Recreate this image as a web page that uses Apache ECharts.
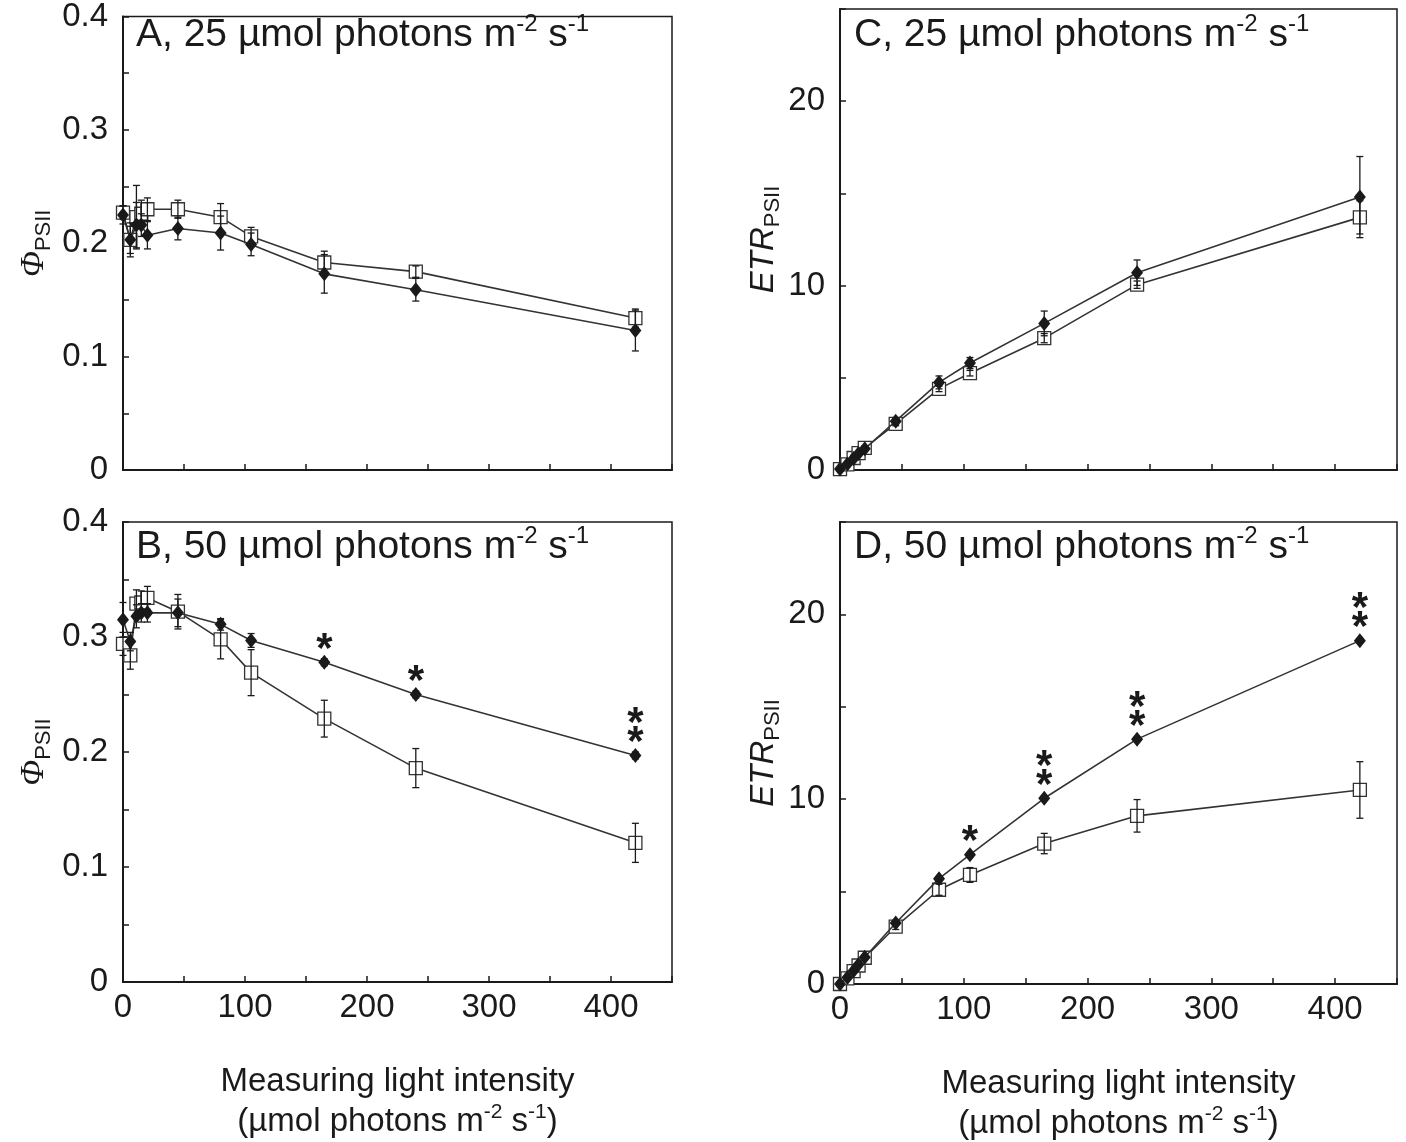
<!DOCTYPE html>
<html>
<head>
<meta charset="utf-8">
<script src="https://cdn.jsdelivr.net/npm/echarts@6/dist/echarts.min.js"></script>
<style>
  html, body { margin: 0; padding: 0; background: #fff; }
  #chart { width: 1406px; height: 1142px; }
</style>
</head>
<body>
<div id="chart"></div>
<script>
// measuring light intensity (x)
const lightX = [0, 6, 11, 15, 20, 45, 80, 105, 165, 240, 420];

// A: PhiPSII, grown at 25
const phiA_diamond = [0.225, 0.203, 0.216, 0.216, 0.207, 0.213, 0.209, 0.199, 0.173, 0.159, 0.123];
const phiA_diamondErr = [0.008, 0.012, 0.020, 0.010, 0.012, 0.010, 0.015, 0.010, 0.017, 0.010, 0.018];
const phiA_square = [0.227, 0.203, 0.223, 0.226, 0.230, 0.230, 0.223, 0.206, 0.183, 0.175, 0.134];
const phiA_squareErr = [0.006, 0.015, 0.028, 0.012, 0.010, 0.008, 0.012, 0.008, 0.010, 0.005, 0.008];

// B: PhiPSII, grown at 50
const phiB_diamond = [0.315, 0.296, 0.318, 0.321, 0.321, 0.321, 0.311, 0.297, 0.278, 0.250, 0.197];
const phiB_diamondErr = [0.015, 0.008, 0.010, 0.008, 0.008, 0.012, 0.005, 0.006, 0.003, 0.003, 0.003];
const phiB_square = [0.294, 0.284, 0.329, 0.330, 0.334, 0.322, 0.298, 0.269, 0.229, 0.186, 0.121];
const phiB_squareErr = [0.010, 0.012, 0.012, 0.010, 0.010, 0.015, 0.017, 0.020, 0.016, 0.017, 0.017];
const starsB = ['', '', '', '', '', '', '', '', '*', '*', '**'];

// C: ETR, grown at 25
const etrC_diamond = [0.05, 0.32, 0.62, 0.9, 1.15, 2.65, 4.75, 5.8, 7.95, 10.7, 14.8];
const etrC_diamondErr = [0.05, 0.1, 0.15, 0.1, 0.1, 0.15, 0.35, 0.3, 0.67, 0.69, 2.2];
const etrC_square = [0.05, 0.3, 0.65, 0.92, 1.2, 2.5, 4.4, 5.25, 7.15, 10.05, 13.7];
const etrC_squareErr = [0.05, 0.1, 0.15, 0.1, 0.1, 0.1, 0.15, 0.15, 0.25, 0.2, 0.9];

// D: ETR, grown at 50
const etrD_diamond = [0, 0.35, 0.72, 1.05, 1.45, 3.3, 5.7, 7.0, 10.05, 13.25, 18.58];
const etrD_diamondErr = [0, 0.05, 0.05, 0.05, 0.05, 0.1, 0.1, 0.1, 0.1, 0.1, 0.1];
const etrD_square = [0, 0.3, 0.7, 1.0, 1.42, 3.1, 5.1, 5.9, 7.6, 9.1, 10.5];
const etrD_squareErr = [0, 0.05, 0.1, 0.1, 0.1, 0.15, 0.3, 0.4, 0.55, 0.88, 1.53];
const starsD = ['', '', '', '', '', '', '', '*', '**', '**', '**'];

const phiTicks = [0, 0.1, 0.2, 0.3, 0.4];
const etrTicks = [0, 10, 20];
const xTicks = [0, 100, 200, 300, 400];

const FONT = 'Liberation Sans';
const black = '#1a1a1a';
const LBL = 33;

const grids = [
  { left: 123, top: 9, width: 549, height: 461 },
  { left: 123, top: 522, width: 549, height: 460 },
  { left: 840, top: 9, width: 557, height: 461 },
  { left: 840, top: 522, width: 557, height: 462 }
].map(g => Object.assign(g, { show: true, borderColor: black, borderWidth: 1.5, backgroundColor: 'transparent' }));

const unitName = '{t|(µmol photons m}{s|-2}{t| s}{s|-1}{t|)}';
const unitRich = {
  t: { fontSize: LBL, fontFamily: FONT, color: black, lineHeight: 40 },
  s: { fontSize: 21, fontFamily: FONT, color: black, verticalAlign: 'top', lineHeight: 40, padding: [0, 0, 14, 0] },
  h: { fontSize: LBL, fontFamily: FONT, color: black, lineHeight: 40 }
};

function makeX(idx, showLabels) {
  return {
    gridIndex: idx, type: 'value', min: 0, max: 450, interval: 50,
    axisLine: { lineStyle: { color: black, width: 2 } },
    axisTick: { inside: true, length: 6, lineStyle: { color: black, width: 1.5 } },
    axisLabel: {
      show: showLabels, margin: 9, fontSize: LBL, fontFamily: FONT, color: black,
      formatter: v => (xTicks.indexOf(v) >= 0 ? String(v) : '')
    },
    splitLine: { show: false },
    name: showLabels ? '{h|Measuring light intensity}\n' + unitName : '',
    nameLocation: 'middle', nameGap: 80,
    nameTextStyle: { rich: unitRich, verticalAlign: 'top' }
  };
}

function makeY(idx, kind) {
  const isPhi = kind === 'phi';
  return {
    gridIndex: idx, type: 'value', min: 0,
    max: isPhi ? 0.4 : 25, interval: isPhi ? 0.05 : 5,
    axisLine: { lineStyle: { color: black, width: 2 } },
    axisTick: { inside: true, length: 6, lineStyle: { color: black, width: 1.5 } },
    axisLabel: {
      margin: 15, fontSize: LBL, fontFamily: FONT, color: black,
      formatter: v => {
        if (isPhi) {
          const hit = phiTicks.find(t => Math.abs(t - v) < 1e-6);
          return hit === undefined ? '' : (hit === 0 ? '0' : hit.toFixed(1));
        }
        return etrTicks.indexOf(v) >= 0 ? String(v) : '';
      }
    },
    splitLine: { show: false },
    name: isPhi ? '{m|Φ}{b|PSII}' : '{m|ETR}{b|PSII}',
    nameLocation: 'middle', nameRotate: 90, nameGap: isPhi ? 68 : 50,
    nameTextStyle: {
      rich: {
        m: { fontSize: isPhi ? 34 : LBL, fontStyle: 'italic', fontFamily: isPhi ? 'Liberation Serif' : FONT, color: black, lineHeight: 42 },
        b: { fontSize: 22, fontFamily: FONT, color: black, verticalAlign: 'bottom', lineHeight: 42, padding: [13, 0, 0, 0] }
      }
    }
  };
}

function errSeries(idx, ys, errs) {
  return {
    type: 'custom', xAxisIndex: idx, yAxisIndex: idx, z: 5,
    data: lightX.map((x, i) => [x, ys[i], errs[i]]),
    renderItem: (params, api) => {
      const x = api.value(0), y = api.value(1), e = api.value(2);
      const top = api.coord([x, y + e]);
      const bot = api.coord([x, y - e]);
      const st = { stroke: black, lineWidth: 1.3 };
      return {
        type: 'group',
        children: [
          { type: 'line', shape: { x1: top[0], y1: top[1], x2: bot[0], y2: bot[1] }, style: st },
          { type: 'line', shape: { x1: top[0] - 3.5, y1: top[1], x2: top[0] + 3.5, y2: top[1] }, style: st },
          { type: 'line', shape: { x1: bot[0] - 3.5, y1: bot[1], x2: bot[0] + 3.5, y2: bot[1] }, style: st }
        ]
      };
    }
  };
}

function diamondSeries(idx, ys, stars) {
  return {
    type: 'line', xAxisIndex: idx, yAxisIndex: idx, z: 4,
    symbol: 'diamond', symbolSize: [12, 15],
    itemStyle: { color: black },
    lineStyle: { color: '#333', width: 1.6 },
    data: lightX.map((x, i) => {
      const item = { value: [x, ys[i]] };
      if (stars && stars[i]) {
        item.label = {
          show: true, position: 'top', distance: -5,
          formatter: stars[i].split('').join('\n'),
          fontSize: 42, fontWeight: 'bold', fontFamily: FONT, color: black, lineHeight: 19
        };
      }
      return item;
    })
  };
}

function squareSeries(idx, ys) {
  return {
    type: 'line', xAxisIndex: idx, yAxisIndex: idx, z: 3,
    symbol: 'rect', symbolSize: 13, showAllSymbol: true,
    itemStyle: { color: '#fff', borderColor: '#333', borderWidth: 1.3 },
    lineStyle: { color: '#333', width: 1.6 },
    data: lightX.map((x, i) => [x, ys[i]])
  };
}

const titleRich = {
  a: { fontSize: 39, fontFamily: FONT, fontWeight: 'normal', color: black, lineHeight: 46 },
  s: { fontSize: 24, fontFamily: FONT, fontWeight: 'normal', color: black, verticalAlign: 'top', lineHeight: 46, padding: [0, 0, 14, 0] }
};
function panelTitle(letter, level, left, top) {
  return {
    text: '{a|' + letter + ', ' + level + ' µmol photons m}{s|-2}{a| s}{s|-1}',
    left: left, top: top, padding: 0,
    textStyle: { fontWeight: 'normal', rich: titleRich }
  };
}

const chart = echarts.init(document.getElementById('chart'), null, { renderer: 'canvas' });
chart.setOption({
  backgroundColor: '#fff',
  animation: false,
  title: [
    panelTitle('A', 25, 136, 12),
    panelTitle('B', 50, 136, 524),
    panelTitle('C', 25, 854, 12),
    panelTitle('D', 50, 854, 524)
  ],
  grid: grids,
  xAxis: [makeX(0, false), makeX(1, true), makeX(2, false), makeX(3, true)],
  yAxis: [makeY(0, 'phi'), makeY(1, 'phi'), makeY(2, 'etr'), makeY(3, 'etr')],
  series: [
    squareSeries(0, phiA_square), diamondSeries(0, phiA_diamond),
    errSeries(0, phiA_square, phiA_squareErr), errSeries(0, phiA_diamond, phiA_diamondErr),
    squareSeries(1, phiB_square), diamondSeries(1, phiB_diamond, starsB),
    errSeries(1, phiB_square, phiB_squareErr), errSeries(1, phiB_diamond, phiB_diamondErr),
    squareSeries(2, etrC_square), diamondSeries(2, etrC_diamond),
    errSeries(2, etrC_square, etrC_squareErr), errSeries(2, etrC_diamond, etrC_diamondErr),
    squareSeries(3, etrD_square), diamondSeries(3, etrD_diamond, starsD),
    errSeries(3, etrD_square, etrD_squareErr), errSeries(3, etrD_diamond, etrD_diamondErr)
  ]
});
</script>
</body>
</html>
